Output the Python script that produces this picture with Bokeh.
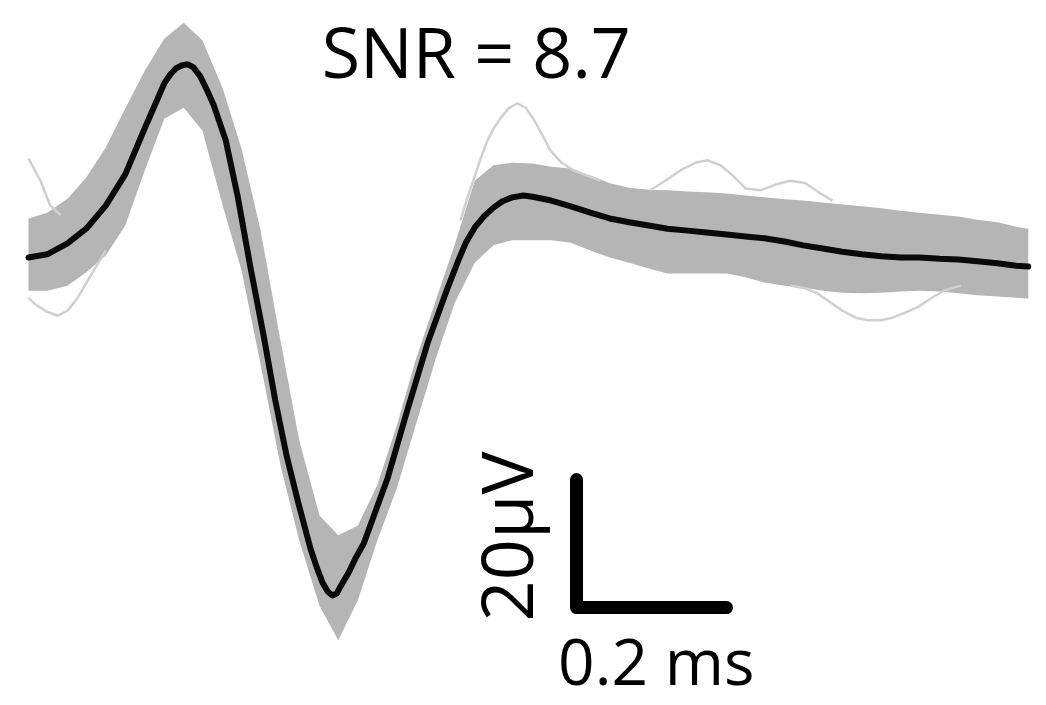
import numpy as np
from bokeh.plotting import figure
from bokeh.models import Range1d
from bokeh.core.properties import value
from bokeh.embed import file_html
from bokeh.resources import INLINE

# ---- data (time in ms, voltage in microvolts) ----
mean_t = [0.000, 0.025, 0.052, 0.077, 0.103, 0.129, 0.155, 0.181, 0.189, 0.196,
          0.204, 0.212, 0.220, 0.229, 0.237, 0.247, 0.263, 0.279, 0.296, 0.313,
          0.329, 0.344, 0.359, 0.376, 0.384, 0.392, 0.399, 0.405, 0.411, 0.416,
          0.427, 0.436, 0.447, 0.479, 0.505, 0.532, 0.559, 0.573, 0.583, 0.595,
          0.607, 0.620, 0.632, 0.645, 0.660, 0.672, 0.697, 0.723, 0.749, 0.775,
          0.801, 0.827, 0.852, 0.879, 0.904, 0.931, 0.956, 0.981, 1.008, 1.033,
          1.059, 1.085, 1.111, 1.137, 1.163, 1.188, 1.215, 1.240, 1.265, 1.292,
          1.317, 1.333]
mean_uv = [0.0, 0.5, 2.2, 4.5, 8.1, 13.0, 20.2, 27.2, 28.6, 29.5,
           30.0, 30.2, 29.7, 28.3, 26.4, 23.8, 18.3, 9.5, -1.6, -11.9,
           -22.3, -30.9, -38.0, -45.5, -48.3, -50.8, -52.2, -52.8, -52.5, -51.4,
           -49.2, -47.0, -44.7, -34.4, -23.9, -13.4, -4.7, -0.5, 2.3, 4.7,
           6.4, 7.8, 8.8, 9.4, 9.7, 9.5, 8.9, 8.0, 7.0, 6.1,
           5.5, 5.0, 4.5, 4.2, 3.9, 3.6, 3.3, 3.0, 2.5, 1.9,
           1.4, 0.9, 0.5, 0.2, 0.0, 0.0, -0.2, -0.3, -0.6, -0.9,
           -1.3, -1.4]

band_t = [0.000, 0.025, 0.052, 0.077, 0.103, 0.129, 0.155, 0.181, 0.207, 0.232,
          0.259, 0.284, 0.309, 0.336, 0.361, 0.388, 0.413, 0.439, 0.465, 0.491,
          0.516, 0.543, 0.568, 0.595, 0.620, 0.645, 0.672, 0.697, 0.723, 0.749,
          0.775, 0.801, 0.827, 0.852, 0.879, 0.904, 0.931, 0.956, 0.981, 1.008,
          1.033, 1.059, 1.085, 1.111, 1.137, 1.163, 1.188, 1.215, 1.240, 1.265,
          1.292, 1.317, 1.333]
band_upper = [6.1, 7.0, 9.2, 12.5, 17.2, 23.3, 29.2, 34.2, 36.7, 33.9,
              26.4, 17.0, 4.5, -13.0, -28.6, -40.3, -43.4, -41.9, -35.6, -26.3,
              -16.1, -6.7, 1.9, 12.0, 14.4, 14.8, 14.7, 14.2, 13.9, 12.8,
              11.6, 10.9, 10.6, 10.5, 10.3, 10.2, 10.0, 9.7, 9.4, 9.1,
              8.9, 8.6, 8.3, 8.0, 7.7, 7.3, 7.0, 6.7, 6.4, 5.9,
              5.5, 4.8, 4.5]
band_lower = [-5.2, -5.2, -4.4, -2.3, 0.3, 5.0, 13.6, 21.7, 23.4, 19.8,
              8.1, -2.0, -16.4, -32.5, -44.2, -54.4, -59.8, -53.6, -44.2, -36.1,
              -26.3, -15.8, -7.2, -0.8, 1.9, 2.7, 2.7, 2.7, 2.3, 1.1,
              0.0, -0.8, -1.7, -2.5, -2.5, -2.5, -2.5, -3.1, -3.9, -4.4,
              -4.7, -5.2, -5.5, -5.6, -5.5, -5.3, -5.2, -5.3, -5.6, -5.9,
              -6.1, -6.3, -6.4]

# a few individual outlying traces
out_a_t = [0.000, 0.016, 0.029, 0.043]
out_a_uv = [15.5, 12.0, 8.1, 6.6]
out_b_t = [0.000, 0.009, 0.023, 0.039, 0.052, 0.065, 0.083, 0.103]
out_b_uv = [-6.3, -7.3, -8.4, -9.1, -8.3, -6.4, -2.8, 1.1]
out_c_t = [0.576, 0.584, 0.593, 0.603, 0.612, 0.621, 0.629, 0.640, 0.652, 0.663,
           0.673, 0.684, 0.696, 0.711, 0.727, 0.763]
out_c_uv = [5.8, 8.9, 12.0, 15.5, 18.3, 20.3, 21.7, 23.3, 24.1, 23.4,
            21.7, 19.4, 16.7, 14.8, 13.6, 12.0]
out_d_t = [0.829, 0.849, 0.869, 0.889, 0.905, 0.923, 0.939, 0.956, 0.976, 0.996,
           1.016, 1.036, 1.056, 1.072]
out_d_uv = [10.5, 12.0, 13.6, 14.8, 15.2, 14.4, 12.8, 10.8, 10.5, 11.4,
            12.0, 11.6, 10.0, 8.9]
out_e_t = [1.016, 1.036, 1.052, 1.069, 1.085, 1.103, 1.119, 1.136, 1.152, 1.169,
           1.185, 1.203, 1.220, 1.243]
out_e_uv = [-4.4, -4.8, -5.6, -7.0, -8.3, -9.4, -9.8, -9.8, -9.4, -8.6,
            -7.8, -6.4, -5.2, -4.4]

snr_label = "SNR = 8.7"
scale_dt = 0.2      # ms
scale_dv = 20.0     # microvolts
scale_t_label = "0.2 ms"
scale_v_label = "20\u00b5V"
scale_origin = (0.7307, -54.7)

# ---- figure ----
p = figure(width=1046, height=705, output_backend="svg", toolbar_location=None,
           x_range=Range1d(-0.03733, 1.35733), y_range=Range1d(-70.0, 40.16),
           min_border=0, background_fill_color="white", border_fill_color="white")
p.axis.visible = False
p.grid.visible = False
p.outline_line_color = None

p.varea(x=band_t, y1=band_lower, y2=band_upper, fill_color="#b5b5b5")

for tt, vv in [(out_a_t, out_a_uv), (out_b_t, out_b_uv), (out_c_t, out_c_uv),
               (out_d_t, out_d_uv), (out_e_t, out_e_uv)]:
    p.line(tt, vv, line_color="#d0d0d0", line_width=2.5, line_join="round")

p.line(mean_t, mean_uv, line_color="#0a0a0a", line_width=6, line_join="round",
       line_cap="round")

# scale bar
t0, v0 = scale_origin
p.line([t0, t0, t0 + scale_dt], [v0 + scale_dv, v0, v0], line_color="black",
       line_width=13, line_cap="round", line_join="round")

p.text(x=[0.597], y=[32.3], text=[snr_label], text_font=value("Open Sans"),
       text_font_size="70px", text_align="center", text_baseline="alphabetic",
       text_color="black")
p.text(x=[0.837], y=[-63.0], text=[scale_t_label], text_font=value("Open Sans"),
       text_font_size="64px", text_align="center", text_baseline="alphabetic",
       text_color="black")
p.text(x=[0.636], y=[-43.6], text=[scale_v_label], text_font=value("Open Sans"),
       text_font_size="72px", text_align="center", text_baseline="alphabetic",
       angle=np.pi / 2, text_color="black")

open("out.html", "w").write(file_html(p, INLINE))
